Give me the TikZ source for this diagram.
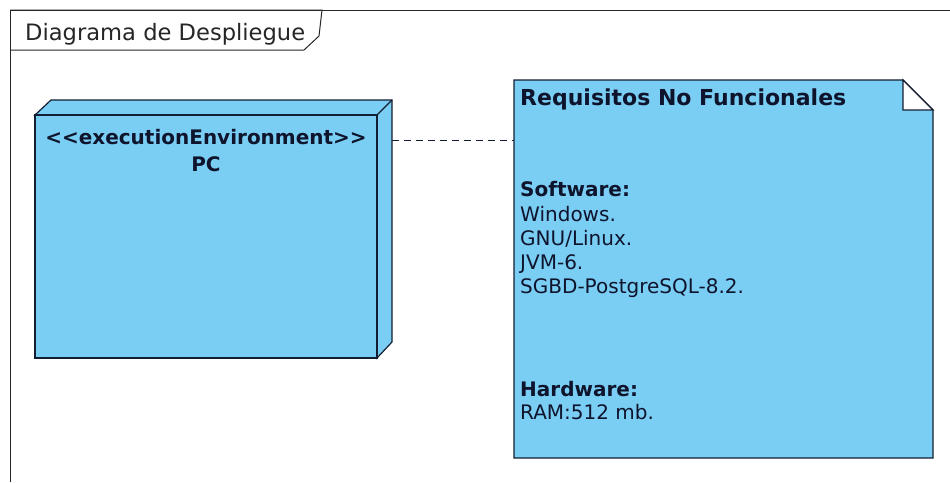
\documentclass[tikz,border=0pt]{standalone}
\usepackage{fontspec}
\setmainfont{DejaVu Sans}
\begin{document}
\begin{tikzpicture}[x=1pt,y=-1pt,
  umlfill/.style={fill=nodeblue,draw=edgecol,line width=1.2pt,line join=miter},
  lbl/.style={text=txtcol,inner sep=0pt,anchor=base west,font=\fontsize{20}{24}\selectfont},
  boldlbl/.style={lbl,font=\fontsize{20}{24}\selectfont\bfseries},
  framestyle/.style={draw=black!85,line width=1pt}
]
\definecolor{nodeblue}{RGB}{122,205,243}
\definecolor{edgecol}{RGB}{20,30,50}
\definecolor{txtcol}{RGB}{15,20,45}
\useasboundingbox[fill=white] (0,0) rectangle (950,482);

% diagram frame with its name tab
\draw[framestyle] (10,482) -- (10,10) -- (950,10);
\draw[framestyle] (10,10) -- (322,10) -- (319,36) -- (304,50) -- (10,50);
\node[lbl,font=\fontsize{22.6}{24}\selectfont,text=black!85] (title) at (25,40) {Diagrama de Despliegue};

% execution environment node (3D box)
\draw[umlfill] (35,115) -- (51,100) -- (392,100) -- (392,342) -- (377,358) -- (377,115) -- cycle;
\draw[umlfill] (35,115) rectangle (377,358);
\draw[edgecol,line width=1.2pt] (377,115) -- (392,100);
\node[inner sep=0pt,minimum width=357pt,minimum height=258pt] (pc) at (213.5,229) {};
\node[boldlbl,anchor=base] (stereo) at (206,144) {{<}{<}executionEnvironment{>}{>}};
\node[boldlbl,anchor=base] (pcname) at (206,171) {PC};

% note with folded corner
\draw[umlfill] (514,80) -- (903,80) -- (933,110) -- (933,458) -- (514,458) -- cycle;
\draw[fill=white,draw=edgecol,line width=1.2pt] (903,80) -- (903,110) -- (933,110) -- cycle;
\node[inner sep=0pt,minimum width=419pt,minimum height=378pt] (note) at (723.5,269) {};
\node[boldlbl,font=\fontsize{22}{24}\selectfont\bfseries] (nt) at (520,105) {Requisitos No Funcionales};
\node[boldlbl] (sw) at (520,196) {Software:};
\node[lbl] (s1) at (520,221) {Windows.};
\node[lbl] (s2) at (520,245) {GNU/Linux.};
\node[lbl] (s3) at (520,269) {JVM-6.};
\node[lbl] (s4) at (520,293) {SGBD-PostgreSQL-8.2.};
\node[boldlbl] (hw) at (520,396) {Hardware:};
\node[lbl] (h1) at (520,419) {RAM:512 mb.};

% anchor link between node and note
\draw[edgecol,line width=1pt,dash pattern=on 7pt off 5pt] (pc.east |- 0,140) -- (note.west |- 0,140);
\end{tikzpicture}
\end{document}
